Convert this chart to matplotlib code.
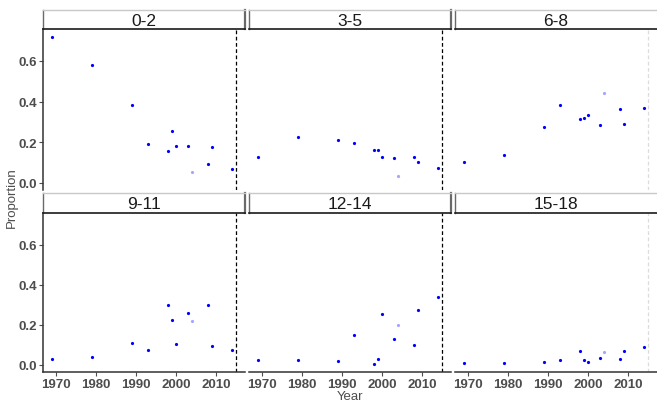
"""Proportion by age group over survey years, faceted 2x3."""

import matplotlib

matplotlib.use("Agg")
import matplotlib.pyplot as plt

plt.rcParams["font.family"] = ["Liberation Sans", "DejaVu Sans"]

YEARS = [1969, 1979, 1989, 1993, 1998, 1999, 2000, 2003, 2004, 2008, 2009, 2014]
AGE_GROUPS = ["0-2", "3-5", "6-8", "9-11", "12-14", "15-18"]

P_0_2 = [0.719, 0.580, 0.384, 0.189, 0.157, 0.257, 0.181, 0.183, 0.055, 0.091, 0.175, 0.070]
P_3_5 = [0.128, 0.226, 0.212, 0.194, 0.163, 0.160, 0.129, 0.123, 0.034, 0.126, 0.105, 0.074]
P_6_8 = [0.101, 0.136, 0.275, 0.383, 0.314, 0.320, 0.334, 0.283, 0.440, 0.363, 0.292, 0.366]
P_9_11 = [0.029, 0.041, 0.109, 0.073, 0.297, 0.223, 0.103, 0.258, 0.217, 0.299, 0.096, 0.075]
P_12_14 = [0.024, 0.024, 0.021, 0.147, 0.006, 0.029, 0.254, 0.127, 0.199, 0.101, 0.276, 0.338]
P_15_18 = [0.011, 0.008, 0.016, 0.024, 0.068, 0.027, 0.013, 0.034, 0.065, 0.032, 0.070, 0.088]
PROPORTIONS = [P_0_2, P_3_5, P_6_8, P_9_11, P_12_14, P_15_18]

# 2004 estimates are shown faded
FADED_YEAR = 2004
CUTOFF_YEAR = 2015

X_TICKS = [1970, 1980, 1990, 2000, 2010]
Y_TICKS = [0.0, 0.2, 0.4, 0.6]
XLIM = (1966.7, 2017.3)
YLIM = (-0.035, 0.757)

W, H = 657, 406
COL_LEFT = [43, 249, 455]
COL_W = 202
ROWS = [(11, 30, 191), (194, 214, 373)]  # strip top, panel top, panel bottom

TICK_COLOR = "#4d4d4d"


def _box(x0, y0, x1, y1):
    return [x0 / W, 1 - y1 / H, (x1 - x0) / W, (y1 - y0) / H]


def main() -> None:
    fig = plt.figure(figsize=(W / 100, H / 100), dpi=100)

    for i, (label, vals) in enumerate(zip(AGE_GROUPS, PROPORTIONS)):
        r, c = divmod(i, 3)
        s_top, p_top, p_bot = ROWS[r]
        x0 = COL_LEFT[c]

        ax = fig.add_axes(_box(x0, p_top, x0 + COL_W, p_bot))
        ax.set_xlim(*XLIM)
        ax.set_ylim(*YLIM)
        for sp in ax.spines.values():
            sp.set_visible(False)

        vcol = "#dcdcdc" if c == 2 else "black"
        ax.axvline(CUTOFF_YEAR, color=vcol, ls=(0, (3, 2)), lw=0.9, zorder=1)

        for yr, v in zip(YEARS, vals):
            a = 0.35 if yr == FADED_YEAR else 1.0
            ax.plot(yr, v, "o", ms=2.3, mew=0, color="#0000ff", alpha=a, zorder=3)

        ax.set_xticks(X_TICKS)
        ax.set_yticks(Y_TICKS)
        ax.tick_params(length=3, width=0.8, color=TICK_COLOR, labelcolor=TICK_COLOR,
                       labelsize=9.5, pad=1.0)
        if c == 0:
            ax.spines["left"].set_visible(True)
            ax.spines["left"].set_color("#333333")
            ax.spines["left"].set_linewidth(1.1)
            ax.set_yticklabels([f"{t:.1f}" for t in Y_TICKS], fontweight="bold")
        else:
            ax.tick_params(axis="y", left=False, labelleft=False)
        if r == 1:
            ax.spines["bottom"].set_visible(True)
            ax.spines["bottom"].set_color("#333333")
            ax.spines["bottom"].set_linewidth(1.1)
            ax.set_xticklabels([str(t) for t in X_TICKS], fontweight="bold")
        else:
            ax.tick_params(axis="x", bottom=False, labelbottom=False)

        # facet strip; the last column runs past the right edge of the figure
        s_right = x0 + COL_W + (6 if c == 2 else 0)
        st = fig.add_axes(_box(x0, s_top, s_right, p_top))
        st.set_xticks([])
        st.set_yticks([])
        st.set_facecolor("white")
        for sp in st.spines.values():
            sp.set_color("#6a6a6a")
            sp.set_linewidth(1.0)
        st.spines["top"].set_color("#c8c8c8")
        st.spines["right"].set_linewidth(1.6)
        st.spines["bottom"].set_color("#1a1a1a")
        st.spines["bottom"].set_linewidth(1.2)
        st.text((COL_W / 2) / (s_right - x0), 0.45, label, ha="center",
                va="center", fontsize=12.5, color="#1a1a1a", transform=st.transAxes)

    fig.text(350 / W, 1 - 397.5 / H, "Year", ha="center", va="center",
             fontsize=9.5, color=TICK_COLOR)
    fig.text(12 / W, 1 - 198 / H, "Proportion", ha="center", va="center",
             rotation=90, fontsize=9.5, color=TICK_COLOR)

    fig.savefig("out.png", dpi=100)
    plt.close(fig)


if __name__ == "__main__":
    main()
